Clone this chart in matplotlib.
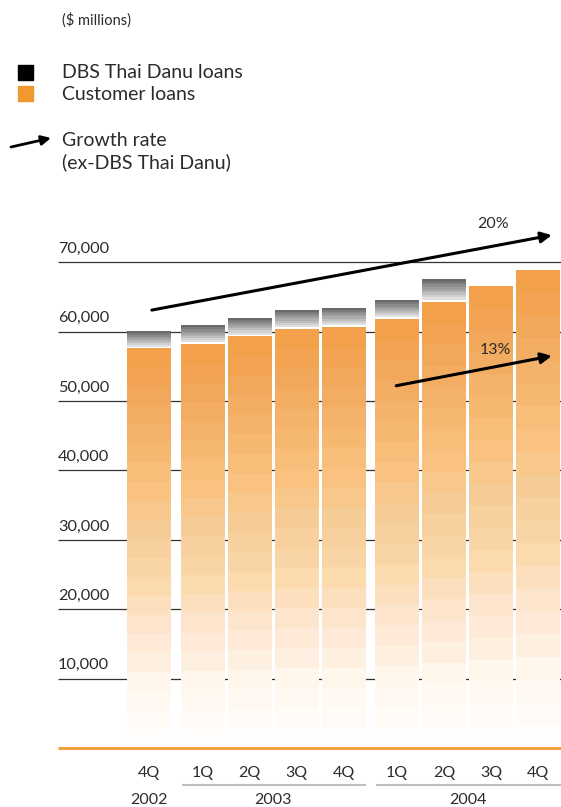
import numpy as np
import matplotlib
matplotlib.use("Agg")
import matplotlib.pyplot as plt
from matplotlib.patches import Rectangle

plt.rcParams['font.family'] = ['Lato', 'DejaVu Sans']

# datos ($ millions)
quarters = ['4Q', '1Q', '2Q', '3Q', '4Q', '1Q', '2Q', '3Q', '4Q']
group = [0, 1, 1, 1, 1, 2, 2, 2, 2]
years = ['2002', '2003', '2004']
customer = [57600, 58200, 59300, 60400, 60700, 61800, 64300, 66500, 68900]
thai_danu = [2200, 2500, 2450, 2500, 2500, 2500, 3000, 0, 0]
yticks = [10000, 20000, 30000, 40000, 50000, 60000, 70000]
growth_all = '20%'
growth_ex = '13%'

txt = '#2b2b2b'

def mezcla(stops, f):
    pos = [s[0] for s in stops]
    return tuple(np.interp(f, pos, [s[1][i] for s in stops]) / 255 for i in range(3))

naranja = [(0.0, (255, 254, 252)), (0.15, (255, 246, 236)), (0.3, (253, 228, 204)),
           (0.4, (251, 218, 173)), (0.55, (245, 203, 150)), (0.65, (249, 194, 128)),
           (0.8, (244, 178, 106)), (0.9, (242, 168, 90)), (1.0, (243, 160, 74))]
gris = [(0.0, (232, 232, 232)), (1.0, (98, 98, 98))]

fig = plt.figure(figsize=(5.61, 8.07), dpi=100)
ax = fig.add_axes([0, 0, 1, 1])
# escala: 47 px por barra, 69.4 px por 10.000
ax.set_xlim(-149 / 47, (561 - 149) / 47)
ax.set_ylim(-(807 - 748) / 69.4 * 10000, 748 / 69.4 * 10000)
ax.axis('off')

x = np.arange(len(customer)) + 0.14 * np.array(group)
w = 0.936
xmin = -(149 - 58) / 47
xmax = (561 - 149) / 47

# lineas de grilla
for t in yticks:
    ax.hlines(t, xmin, xmax, color='#333333', lw=0.9, zorder=1)
    ax.text(xmin, t + 900, f'{t:,}', fontsize=11.7, color=txt, ha='left', va='bottom')

# barras con degradado en bandas
nb = 21
for xi, c, d in zip(x, customer, thai_danu):
    h = c / nb
    for k in range(nb):
        ax.bar(xi, h, w, bottom=k * h, color=mezcla(naranja, k / (nb - 1)), lw=0, zorder=2)
    if d > 0:
        gap = 250
        ng = 8
        hg = d / ng
        for k in range(ng):
            ax.bar(xi, hg, w, bottom=c + gap + k * hg, color=mezcla(gris, (k + 0.5) / ng),
                   lw=0, zorder=2)

# linea base
ax.hlines(0, xmin, xmax, color='#f0a040', lw=2.2, zorder=3)

# etiquetas de eje x
for xi, q in zip(x, quarters):
    ax.text(xi, -3600, q, fontsize=11.5, color=txt, ha='center', va='center')
for g, yr in enumerate(years):
    xs = x[np.array(group) == g]
    ax.text(xs.mean(), -7500, yr, fontsize=11.5, color=txt, ha='center', va='center')
    if len(xs) > 1:
        ax.hlines(-5330, xs[0] - w / 2 + 0.02, xs[-1] + w / 2 + 0.15 * (g == 2),
                  color='#c0c0c0', lw=1.5)

# flechas de crecimiento
flecha = dict(arrowstyle='-|>', color='black', lw=2.2, mutation_scale=16, shrinkA=0, shrinkB=0)
ax.annotate('', xy=(8.57, 73900), xytext=(0.06, 63100), arrowprops=flecha, zorder=5)
ax.annotate('', xy=(8.57, 56500), xytext=(5.26, 52200), arrowprops=flecha, zorder=5)
ax.text(7.32, 75500, growth_all, fontsize=11.5, color=txt, ha='center', va='center')
ax.text(7.38, 57300, growth_ex, fontsize=11.5, color=txt, ha='center', va='center', zorder=6)

# leyenda
W, H = 561, 807
fig.text(62 / W, 1 - 20 / H, '($ millions)', fontsize=10.5, color=txt, va='center')
fig.patches.append(Rectangle((18 / W, 1 - 80 / H), 15 / W, 15 / H, transform=fig.transFigure,
                             color='black', figure=fig))
fig.patches.append(Rectangle((18 / W, 1 - 101 / H), 15 / W, 15 / H, transform=fig.transFigure,
                             color='#f0992e', figure=fig))
fig.text(62 / W, 1 - 72 / H, 'DBS Thai Danu loans', fontsize=14, color=txt, va='center')
fig.text(62 / W, 1 - 95 / H, 'Customer loans', fontsize=14, color=txt, va='center')
ax.annotate('', xy=(51 / W, 1 - 138 / H), xytext=(11 / W, 1 - 147 / H),
            xycoords='figure fraction', textcoords='figure fraction',
            arrowprops=dict(arrowstyle='-|>', color='black', lw=2, mutation_scale=14,
                            shrinkA=0, shrinkB=0))
fig.text(62 / W, 1 - 140 / H, 'Growth rate', fontsize=14, color=txt, va='center')
fig.text(62 / W, 1 - 162 / H, '(ex-DBS Thai Danu)', fontsize=14, color=txt, va='center')

fig.savefig('out.png', dpi=100)
